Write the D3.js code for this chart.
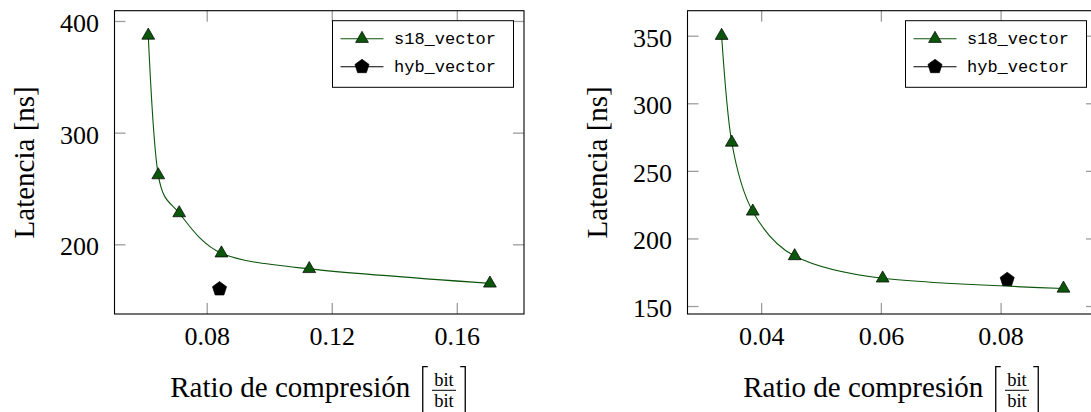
<!DOCTYPE html>
<html>
<head>
<meta charset="utf-8">
<script src="https://cdn.jsdelivr.net/npm/d3@7"></script>
<style>
  html, body { margin: 0; padding: 0; background: #fff; }
  svg { display: block; }
</style>
</head>
<body>
<svg id="chart" width="1091" height="412"></svg>
<script>
// ── data ──────────────────────────────────────────────
// left panel
const leftS18X  = [0.0613, 0.0645, 0.0712, 0.0847, 0.1128, 0.1706];
const leftS18Y  = [387, 262, 228, 192, 178, 165];
const leftHybX  = [0.0841];
const leftHybY  = [160];
const leftXTicks = [0.08, 0.12, 0.16];
const leftYTicks = [200, 300, 400];
const leftXRange = [0.0505, 0.1815];
const leftYRange = [137.6, 409.2];

// right panel
const rightS18X  = [0.0334, 0.0351, 0.0386, 0.0456, 0.0603, 0.0905];
const rightS18Y  = [350, 271, 220, 187, 170.5, 163];
const rightHybX  = [0.0811];
const rightHybY  = [169.5];
const rightXTicks = [0.04, 0.06, 0.08];
const rightYTicks = [150, 200, 250, 300, 350];
const rightXRange = [0.0277, 0.0961];
const rightYRange = [144.1, 368.5];

const seriesNames = ['s18_vector', 'hyb_vector'];

// ── styling ───────────────────────────────────────────
const GREEN      = '#0b560b';
const TICK_GRAY  = '#9d9d9d';
const SERIF      = '"Liberation Serif", "DejaVu Serif", serif';
const MONO       = '"Liberation Mono", "DejaVu Sans Mono", monospace';
const TICK_LEN   = 11;

const svg = d3.select('#chart');

// pgfplots-like marks
const triPath = r => d3.line()(d3.range(3).map(i => {
  const a = -Math.PI / 2 + i * 2 * Math.PI / 3;
  return [r * Math.cos(a), r * Math.sin(a)];
})) + 'Z';
const pentPath = r => d3.line()(d3.range(5).map(i => {
  const a = -Math.PI / 2 + i * 2 * Math.PI / 5;
  return [r * Math.cos(a), r * Math.sin(a)];
})) + 'Z';

function drawPanel(p) {
  const x = d3.scaleLinear().domain(p.xRange).range([p.x0, p.x1]);
  const y = d3.scaleLinear().domain(p.yRange).range([p.y1, p.y0]);
  const g = svg.append('g');

  // tick marks (inward, gray) on all four sides
  const styleAxis = (ax, labels) => {
    ax.attr('font-family', SERIF);
    ax.select('.domain').remove();
    ax.selectAll('.tick line').attr('stroke', TICK_GRAY).attr('stroke-width', 1.3);
    ax.selectAll('.tick text')
      .attr('fill', '#000')
      .attr('font-family', SERIF)
      .attr('font-size', 26);
    if (!labels) ax.selectAll('.tick text').remove();
  };

  const bottom = g.append('g').attr('transform', `translate(0,${p.y1})`)
    .call(d3.axisBottom(x).tickValues(p.xTicks).tickFormat(d3.format('.2f'))
      .tickSize(-TICK_LEN).tickPadding(12.5));
  styleAxis(bottom, true);

  const top = g.append('g').attr('transform', `translate(0,${p.y0})`)
    .call(d3.axisTop(x).tickValues(p.xTicks).tickSize(-TICK_LEN));
  styleAxis(top, false);

  const left = g.append('g').attr('transform', `translate(${p.x0},0)`)
    .call(d3.axisLeft(y).tickValues(p.yTicks).tickFormat(d3.format('d'))
      .tickSize(-TICK_LEN).tickPadding(15.5));
  styleAxis(left, true);
  left.selectAll('.tick text').attr('dy', '0.4em');

  const right = g.append('g').attr('transform', `translate(${p.x1},0)`)
    .call(d3.axisRight(y).tickValues(p.yTicks).tickSize(-TICK_LEN));
  styleAxis(right, false);

  // frame
  g.append('rect')
    .attr('x', p.x0).attr('y', p.y0)
    .attr('width', p.x1 - p.x0).attr('height', p.y1 - p.y0)
    .attr('fill', 'none').attr('stroke', '#000').attr('stroke-width', 1.1);

  // s18 smooth line + triangles
  const pts = p.s18X.map((v, i) => [v, p.s18Y[i]]);
  const line = d3.line().x(d => x(d[0])).y(d => y(d[1]))
    .curve(d3.curveCardinal.tension(0.08));
  g.append('path').datum(pts).attr('d', line)
    .attr('fill', 'none').attr('stroke', GREEN).attr('stroke-width', 1.1);

  g.selectAll('.tri').data(pts).join('path').attr('class', 'tri')
    .attr('transform', d => `translate(${x(d[0])},${y(d[1])})`)
    .attr('d', triPath(7.4))
    .attr('fill', GREEN).attr('stroke', '#000').attr('stroke-width', 0.7);

  // hyb point
  const hyb = p.hybX.map((v, i) => [v, p.hybY[i]]);
  g.selectAll('.pent').data(hyb).join('path').attr('class', 'pent')
    .attr('transform', d => `translate(${x(d[0])},${y(d[1])})`)
    .attr('d', pentPath(7.4))
    .attr('fill', '#000').attr('stroke', '#000').attr('stroke-width', 0.7);

  // legend
  const lw = 181, lh = 66.6;
  const lx = p.x1 - 10.5 - lw, ly = p.y0 + 10;
  const lg = g.append('g').attr('transform', `translate(${lx},${ly})`);
  lg.append('rect').attr('width', lw).attr('height', lh)
    .attr('fill', '#fff').attr('stroke', '#000').attr('stroke-width', 1);
  const entries = [
    { name: seriesNames[0], color: GREEN, mark: triPath(7.4), fill: GREEN },
    { name: seriesNames[1], color: '#000', mark: pentPath(7.4), fill: '#000' }
  ];
  entries.forEach((e, i) => {
    const ey = 18 + i * 28;
    lg.append('line').attr('x1', 8).attr('x2', 51).attr('y1', ey).attr('y2', ey)
      .attr('stroke', e.color).attr('stroke-width', 1.1);
    lg.append('path').attr('transform', `translate(29.5,${ey})`).attr('d', e.mark)
      .attr('fill', e.fill).attr('stroke', '#000').attr('stroke-width', 0.7);
    lg.append('text').attr('x', 61.5).attr('y', ey + 5.5)
      .attr('font-family', MONO).attr('font-size', 17).text(e.name);
  });

  // y label
  const cy = (p.y0 + p.y1) / 2;
  g.append('text')
    .attr('transform', `translate(${p.x0 - 81},${cy}) rotate(-90)`)
    .attr('text-anchor', 'middle')
    .attr('font-family', SERIF).attr('font-size', 29)
    .text('Latencia [ns]');

  // x label with bracketed fraction
  const cx = (p.x0 + p.x1) / 2;
  const base = 396.7;
  g.append('text')
    .attr('x', cx + 91).attr('y', base)
    .attr('text-anchor', 'end')
    .attr('font-family', SERIF).attr('font-size', 29)
    .text('Ratio de compresión');

  const bl = cx + 103.5, br = cx + 146, bt = 366.7, bb = 420;
  g.append('path')
    .attr('d', `M${bl + 5},${bt}H${bl}V${bb}M${br - 5},${bt}H${br}V${bb}`)
    .attr('fill', 'none').attr('stroke', '#000').attr('stroke-width', 1.3);

  const fx = (bl + br) / 2;
  g.append('text').attr('x', fx).attr('y', 386).attr('text-anchor', 'middle')
    .attr('font-family', SERIF).attr('font-size', 18.5).text('bit');
  g.append('line').attr('x1', fx - 12).attr('x2', fx + 12).attr('y1', 390.3).attr('y2', 390.3)
    .attr('stroke', '#000').attr('stroke-width', 1);
  g.append('text').attr('x', fx).attr('y', 407).attr('text-anchor', 'middle')
    .attr('font-family', SERIF).attr('font-size', 18.5).text('bit');
}

drawPanel({
  x0: 114.5, x1: 524, y0: 10.7, y1: 314,
  xRange: leftXRange, yRange: leftYRange,
  xTicks: leftXTicks, yTicks: leftYTicks,
  s18X: leftS18X, s18Y: leftS18Y, hybX: leftHybX, hybY: leftHybY
});

drawPanel({
  x0: 687.5, x1: 1097, y0: 10.7, y1: 314,
  xRange: rightXRange, yRange: rightYRange,
  xTicks: rightXTicks, yTicks: rightYTicks,
  s18X: rightS18X, s18Y: rightS18Y, hybX: rightHybX, hybY: rightHybY
});
</script>
</body>
</html>
